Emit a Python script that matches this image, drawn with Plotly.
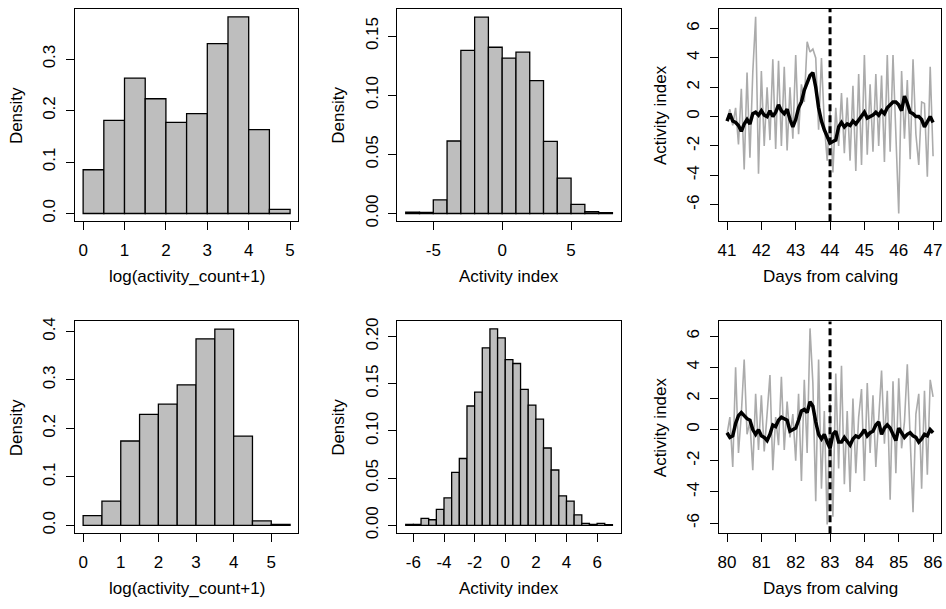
import plotly.graph_objects as go
import numpy as np

# ---------------- data ----------------
# Histogram 1 (top-left): log(activity_count+1)
h1_edges = [0.0, 0.5, 1.0, 1.5, 2.0, 2.5, 3.0, 3.5, 4.0, 4.5, 5.0]
h1_density = [0.085, 0.181, 0.263, 0.223, 0.177, 0.194, 0.330, 0.382, 0.163, 0.008]

# Histogram 2 (top-middle): Activity index
h2_edges = [-7, -6, -5, -4, -3, -2, -1, 0, 1, 2, 3, 4, 5, 6, 7, 8]
h2_density = [0.0012, 0.0010, 0.0116, 0.0613, 0.1380, 0.1660, 0.1406, 0.1314,
              0.1364, 0.1123, 0.0610, 0.0300, 0.0078, 0.0015, 0.0008]

# Histogram 4 (bottom-left): log(activity_count+1)
h4_edges = [0.0, 0.5, 1.0, 1.5, 2.0, 2.5, 3.0, 3.5, 4.0, 4.5, 5.0, 5.5]
h4_density = [0.020, 0.050, 0.174, 0.229, 0.250, 0.290, 0.385, 0.405, 0.184, 0.009, 0.002]

# Histogram 5 (bottom-middle): Activity index
h5_edges = [-6.5, -6.0, -5.5, -5.0, -4.5, -4.0, -3.5, -3.0, -2.5, -2.0, -1.5, -1.0, -0.5,
            0.0, 0.5, 1.0, 1.5, 2.0, 2.5, 3.0, 3.5, 4.0, 4.5, 5.0, 5.5, 6.0, 6.5, 7.0]
h5_density = [0.0010, 0.0010, 0.0073, 0.0059, 0.0170, 0.0290, 0.0560, 0.0708, 0.1264,
              0.1410, 0.1880, 0.2080, 0.1985, 0.1756, 0.1714, 0.1440, 0.1274, 0.1124,
              0.0819, 0.0586, 0.0312, 0.0257, 0.0111, 0.0020, 0.0010, 0.0020, 0.0007]

# Time series 3 (top-right): days 41..47, 2-hourly
ts3_start, ts3_end = 41.0, 47.0
ts3_raw = [-0.2, 0.5, -0.6, 0.6, -1.9, 1.9, -3.6, 3.0, -2.8, 3.0, 6.8, -3.9,
           3.1, -2.0, 2.0, -1.6, 3.9, -2.2, 3.8, -2.0, 3.4, -2.3, 2.0, -1.5,
           4.2, -1.2, 2.2, 1.0, 5.1, 4.4, 4.6, 4.0, -0.9, 4.0, -0.5, -3.0,
           0.4, -3.8, 0.6, -2.0, 1.6, -2.5, 1.3, -3.0, 2.1, -3.7, 2.9, -3.3,
           4.2, -2.6, 2.2, -2.4, 2.9, -2.0, 2.8, -3.1, 4.2, -2.4, 4.2, -1.0,
           -6.6, 3.1, -1.5, 2.5, -2.9, 3.9, -1.2, -3.3, 1.0, 0.9, -4.1, 3.4, -2.7]
ts3_smooth = [-0.3, 0.2, -0.3, -0.4, -0.6, -1.0, -0.5, -0.2, -0.5, 0.2, 0.3, 0.1,
              0.4, 0.1, 0.0, 0.4, 0.0, 0.3, 0.8, 0.4, 0.2, 0.5, -0.2, -0.7,
              -0.2, 0.6, 1.0, 1.8, 2.3, 2.8, 3.0, 2.0, 0.6, -0.3, -0.9, -1.4,
              -1.8, -1.7, -1.6, -0.7, -0.4, -0.7, -0.5, -0.6, -0.3, -0.5, -0.2, 0.0,
              0.3, -0.1, 0.0, 0.1, 0.3, 0.1, 0.4, 0.2, 0.6, 0.8, 1.0, 1.0,
              0.8, 0.4, 1.4, 0.9, 0.3, 0.2, 0.0, 0.0, -0.2, -0.7, -0.4, 0.0, -0.4]
ts3_event = 44.0

# Time series 6 (bottom-right): days 80..86, 2-hourly
ts6_start, ts6_end = 80.0, 86.0
ts6_raw = [-0.3, 0.8, -2.4, 4.0, -1.5, 1.0, 4.5, -0.3, 0.5, -2.6, 2.3, -1.3,
           2.2, -1.4, 1.0, 3.5, -2.6, 0.8, -1.0, 3.4, -1.3, 1.8, -0.5, 1.0,
           -2.0, 2.3, -3.3, 3.2, -1.5, 6.5, 3.0, -4.6, 4.5, -3.8, 1.2, -6.1,
           1.7, -5.6, 3.6, -2.5, 4.1, -3.5, 1.2, -4.0, 2.0, -2.8, 0.8, 2.6,
           -3.3, 3.0, -1.5, 2.2, -2.4, 1.0, 3.8, -0.9, 2.5, -4.5, 3.1, -2.8,
           3.3, -1.2, 0.5, 4.2, -1.0, -5.3, 1.0, 2.3, -3.8, 2.5, -2.9, 3.2, 2.1]
ts6_smooth = [-0.2, -0.5, -0.4, 0.4, 0.9, 1.1, 0.9, 0.7, 0.6, 0.0, -0.3, 0.0,
              -0.4, -0.5, -0.7, -0.3, 0.3, 0.2, 0.6, 0.8, 0.7, 0.6, -0.1, 0.0,
              0.1, 0.6, 1.2, 1.3, 1.1, 1.8, 1.5, 0.5, -0.3, -0.6, -0.3, -0.8,
              -1.2, -0.3, -0.1, -0.8, -0.8, -0.5, -0.8, -1.0, -0.6, -0.4, -0.5, -0.3,
              0.0, -0.4, -0.2, -0.1, 0.3, 0.5, -0.3, 0.1, 0.3, 0.1, -0.3, -0.7,
              0.1, -0.2, -0.5, -0.3, -0.2, -0.4, -0.5, -0.8, -0.6, -0.3, -0.4, 0.0, -0.2]
ts6_event = 83.0

# ---------------- figure ----------------
W, H = 946, 609
FONT = "Liberation Sans, Arial, sans-serif"
FS = 17
fig = go.Figure()

def add_hist(edges, dens, n):
    centers = [(edges[i] + edges[i + 1]) / 2 for i in range(len(dens))]
    widths = [edges[i + 1] - edges[i] for i in range(len(dens))]
    fig.add_trace(go.Bar(x=centers, y=dens, width=widths,
                         marker=dict(color="#BEBEBE", line=dict(color="black", width=1.3)),
                         xaxis=f"x{n}", yaxis=f"y{n}", showlegend=False, hoverinfo="skip"))

def add_ts(start, end, raw, smooth, event, n):
    t_raw = np.linspace(start, end, len(raw))
    t_sm = np.linspace(start, end, len(smooth))
    fig.add_trace(go.Scatter(x=t_raw, y=raw, mode="lines",
                             line=dict(color="#ABABAB", width=1.6),
                             xaxis=f"x{n}", yaxis=f"y{n}", showlegend=False))
    fig.add_trace(go.Scatter(x=t_sm, y=smooth, mode="lines",
                             line=dict(color="black", width=3.5),
                             xaxis=f"x{n}", yaxis=f"y{n}", showlegend=False))
    fig.add_shape(type="line", xref=f"x{n}", yref=f"y{n} domain",
                  x0=event, x1=event, y0=0, y1=1,
                  line=dict(color="black", width=3, dash="7px,4px"))

add_hist(h1_edges, h1_density, 1)
add_hist(h2_edges, h2_density, 2)
add_ts(ts3_start, ts3_end, ts3_raw, ts3_smooth, ts3_event, 3)
add_hist(h4_edges, h4_density, 4)
add_hist(h5_edges, h5_density, 5)
add_ts(ts6_start, ts6_end, ts6_raw, ts6_smooth, ts6_event, 6)

# pixel geometry
cols = [(74, 298), (397.3, 621), (719.3, 942.3)]
rows = [(5, 221), (322.7, 538)]

def lab(v, fmt):
    return format(v, fmt)

axes_spec = {
    1: dict(xr=[-0.2, 5.2], xt=[0, 1, 2, 3, 4, 5], xf="g",
            yr=[-0.0153, 0.3975], yt=[0.0, 0.1, 0.2, 0.3], yf=".1f"),
    2: dict(xr=[-7.6, 8.6], xt=[-5, 0, 5], xf="g",
            yr=[-0.00665, 0.1730], yt=[0.0, 0.05, 0.10, 0.15], yf=".2f"),
    3: dict(xr=[40.76, 47.24], xt=[41, 42, 43, 44, 45, 46, 47], xf="g",
            yr=[-7.14, 7.34], yt=[-6, -4, -2, 0, 2, 4, 6], yf="g"),
    4: dict(xr=[-0.22, 5.72], xt=[0, 1, 2, 3, 4, 5], xf="g",
            yr=[-0.0162, 0.4209], yt=[0.0, 0.1, 0.2, 0.3, 0.4], yf=".1f"),
    5: dict(xr=[-7.04, 7.54], xt=[-6, -4, -2, 0, 2, 4, 6], xf="g",
            yr=[-0.0083, 0.2160], yt=[0.0, 0.05, 0.10, 0.15, 0.20], yf=".2f"),
    6: dict(xr=[79.76, 86.24], xt=[80, 81, 82, 83, 84, 85, 86], xf="g",
            yr=[-6.65, 6.95], yt=[-6, -4, -2, 0, 2, 4, 6], yf="g"),
}

xtitles = {1: "log(activity_count+1)", 2: "Activity index", 3: "Days from calving",
           4: "log(activity_count+1)", 5: "Activity index", 6: "Days from calving"}
ytitles = {1: "Density", 2: "Density", 3: "Activity index",
           4: "Density", 5: "Density", 6: "Activity index"}

layout = dict(width=W, height=H, margin=dict(l=0, r=0, t=0, b=0),
              paper_bgcolor="white", plot_bgcolor="white",
              font=dict(family=FONT, size=FS, color="black"), showlegend=False)
annotations = []
for n in range(1, 7):
    r = (n - 1) // 3
    c = (n - 1) % 3
    x0, x1 = cols[c]
    y0, y1 = rows[r]
    spec = axes_spec[n]
    common = dict(showline=True, mirror=True, linecolor="black", linewidth=1,
                  ticks="outside", ticklen=8, tickwidth=1, tickcolor="black",
                  showgrid=False, zeroline=False, fixedrange=True,
                  tickfont=dict(family=FONT, size=FS, color="black"))
    layout[f"xaxis{n}"] = dict(domain=[x0 / W, x1 / W], range=spec["xr"], anchor=f"y{n}",
                               tickmode="array", tickvals=spec["xt"],
                               ticktext=[lab(v, spec["xf"]) for v in spec["xt"]],
                               ticklabelstandoff=5, **common)
    layout[f"yaxis{n}"] = dict(domain=[1 - y1 / H, 1 - y0 / H], range=spec["yr"], anchor=f"x{n}",
                               tickmode="array", tickvals=spec["yt"],
                               ticktext=[lab(v, spec["yf"]) for v in spec["yt"]],
                               tickangle=-90, ticklabelstandoff=4, **common)
    annotations.append(dict(text=xtitles[n], xref="paper", yref="paper",
                            x=(x0 + x1) / 2 / W, y=1 - (y1 + 56) / H,
                            showarrow=False, xanchor="center", yanchor="middle",
                            font=dict(family=FONT, size=FS, color="black")))
    annotations.append(dict(text=ytitles[n], xref="paper", yref="paper",
                            x=(x0 - 59) / W, y=1 - (y0 + y1) / 2 / H, textangle=-90,
                            showarrow=False, xanchor="center", yanchor="middle",
                            font=dict(family=FONT, size=FS, color="black")))
layout["annotations"] = annotations
fig.update_layout(**layout)
fig.write_html("out.html", config={"displayModeBar": False, "staticPlot": True},
               post_script="document.body.style.margin='0';document.body.style.padding='0';")
